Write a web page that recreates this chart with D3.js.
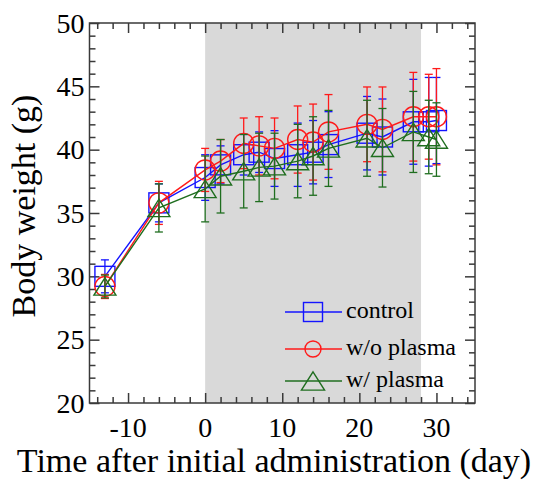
<!DOCTYPE html>
<html>
<head>
<meta charset="utf-8">
<script src="https://cdn.jsdelivr.net/npm/d3@7"></script>
<style>
    body { margin: 0; background: #fff; }
    text { font-family: "Liberation Serif", "Times New Roman", serif; fill: #000; }
</style>
</head>
<body>
<div id="chart"></div>
<script>
// days after initial administration
var days = [-13, -6, 0, 2, 5, 7, 9, 12, 14, 16, 21, 23, 27, 29, 30];

// body weight (g), mean and error
var controlMean = [30.0, 35.8, 37.8, 38.8, 39.6, 39.8, 39.3, 39.6, 39.8, 40.4, 41.3, 41.0, 42.2, 42.2, 42.3];
var controlErr  = [1.3, 1.5, 1.8, 1.5, 1.6, 1.6, 2.2, 2.5, 2.5, 2.6, 2.9, 3.0, 3.35, 3.5, 3.4];
var woPlasmaMean = [29.2, 35.8, 38.4, 39.1, 40.5, 40.3, 40.1, 40.8, 40.6, 41.4, 42.0, 41.6, 42.6, 42.6, 42.6];
var woPlasmaErr  = [0.95, 1.7, 1.7, 1.7, 2.0, 2.3, 2.4, 2.65, 3.0, 2.95, 2.95, 3.35, 3.5, 3.35, 3.8];
var wPlasmaMean = [29.2, 35.4, 36.9, 37.9, 38.3, 38.6, 38.7, 39.1, 39.5, 40.1, 40.9, 40.15, 41.4, 41.0, 40.8];
var wPlasmaErr  = [0.9, 1.9, 2.6, 2.9, 2.9, 2.7, 2.6, 2.9, 3.1, 3.0, 3.0, 3.1, 3.2, 2.9, 2.9];

// administration period (shaded)
var treatPeriod = [0, 28];

var xTicks = [-10, 0, 10, 20, 30];
var yTicks = [20, 25, 30, 35, 40, 45, 50];

var seriesNames = ["control", "w/o plasma", "w/ plasma"];

var width = 542,
    height = 485,
    plot = {left: 89.5, right: 475, top: 23, bottom: 403};

var svg = d3.select("#chart")
    .append("svg")
    .attr("width", width)
    .attr("height", height);

var x = d3.scaleLinear().domain([-15, 35]).range([plot.left, plot.right]);
var y = d3.scaleLinear().domain([20, 50]).range([plot.bottom, plot.top]);

// build series from the arrays
var series = [
    {name: seriesNames[0], mean: controlMean, err: controlErr, color: "#1414ff", symbol: "square"},
    {name: seriesNames[1], mean: woPlasmaMean, err: woPlasmaErr, color: "#ff1a1a", symbol: "circle"},
    {name: seriesNames[2], mean: wPlasmaMean, err: wPlasmaErr, color: "#1f6e1f", symbol: "triangle"}
];
series.forEach(function (s) {
    s.points = days.map(function (d, i) { return {day: d, mean: s.mean[i], err: s.err[i]}; });
});

// shaded administration period
svg.append("rect")
    .attr("x", x(treatPeriod[0]))
    .attr("y", y(50))
    .attr("width", x(treatPeriod[1]) - x(treatPeriod[0]))
    .attr("height", y(20) - y(50))
    .attr("fill", "#d9d9d9");

// axes - ticks inside, mirrored on top and right
var axisColor = "#3a3a3a";
var xMinor = d3.range(-14, 35, 2).filter(function (v) { return v % 10 !== 0; });
var yMinor = d3.range(21, 50, 1).filter(function (v) { return v % 5 !== 0; });

function styleAxis(g) {
    g.select(".domain").remove();
    g.selectAll("line").attr("stroke", axisColor).attr("stroke-width", 1.5);
}

// bottom
svg.append("g").attr("transform", "translate(0," + plot.bottom + ")")
    .call(d3.axisTop(x).tickValues(xMinor).tickSize(6).tickFormat(""))
    .call(styleAxis);
svg.append("g").attr("transform", "translate(0," + plot.bottom + ")")
    .call(d3.axisTop(x).tickValues(xTicks).tickSize(10).tickFormat(""))
    .call(styleAxis);
// top
svg.append("g").attr("transform", "translate(0," + plot.top + ")")
    .call(d3.axisBottom(x).tickValues(xMinor).tickSize(6).tickFormat(""))
    .call(styleAxis);
svg.append("g").attr("transform", "translate(0," + plot.top + ")")
    .call(d3.axisBottom(x).tickValues(xTicks).tickSize(10).tickFormat(""))
    .call(styleAxis);
// left
svg.append("g").attr("transform", "translate(" + plot.left + ",0)")
    .call(d3.axisRight(y).tickValues(yMinor).tickSize(6).tickFormat(""))
    .call(styleAxis);
svg.append("g").attr("transform", "translate(" + plot.left + ",0)")
    .call(d3.axisRight(y).tickValues(yTicks).tickSize(10).tickFormat(""))
    .call(styleAxis);
// right
svg.append("g").attr("transform", "translate(" + plot.right + ",0)")
    .call(d3.axisLeft(y).tickValues(yMinor).tickSize(6).tickFormat(""))
    .call(styleAxis);
svg.append("g").attr("transform", "translate(" + plot.right + ",0)")
    .call(d3.axisLeft(y).tickValues(yTicks).tickSize(10).tickFormat(""))
    .call(styleAxis);

// frame
svg.append("rect")
    .attr("x", plot.left)
    .attr("y", plot.top)
    .attr("width", plot.right - plot.left)
    .attr("height", plot.bottom - plot.top)
    .attr("fill", "none")
    .attr("stroke", axisColor)
    .attr("stroke-width", 1.5);

// tick labels
svg.append("g").selectAll("text")
    .data(xTicks).enter()
    .append("text")
    .attr("x", function (d) { return x(d); })
    .attr("y", plot.bottom + 34)
    .attr("text-anchor", "middle")
    .attr("font-size", 28)
    .text(function (d) { return d; });

svg.append("g").selectAll("text")
    .data(yTicks).enter()
    .append("text")
    .attr("x", plot.left - 5)
    .attr("y", function (d) { return y(d); })
    .attr("dy", "0.34em")
    .attr("text-anchor", "end")
    .attr("font-size", 28)
    .text(function (d) { return d; });

// axis titles
svg.append("text")
    .attr("x", 274)
    .attr("y", 472)
    .attr("text-anchor", "middle")
    .attr("font-size", 34)
    .text("Time after initial administration (day)");

svg.append("text")
    .attr("transform", "translate(35,206) rotate(-90)")
    .attr("text-anchor", "middle")
    .attr("font-size", 34)
    .text("Body weight (g)");

// marker drawing
function drawMarker(sel, symbol, color, size) {
    if (symbol === "square") {
        sel.append("rect")
            .attr("x", -size / 2).attr("y", -size / 2)
            .attr("width", size).attr("height", size);
    } else if (symbol === "circle") {
        sel.append("circle").attr("r", size / 2);
    } else {
        var h = size * 0.87, w = size * 1.1;
        sel.append("path")
            .attr("d", "M0," + (-h / 2) + "L" + (w / 2) + "," + (h / 2) + "L" + (-w / 2) + "," + (h / 2) + "Z");
    }
    sel.selectAll("*")
        .attr("fill", "none")
        .attr("stroke", color)
        .attr("stroke-width", 1.4);
}

var line = d3.line()
    .x(function (d) { return x(d.day); })
    .y(function (d) { return y(d.mean); });

var capW = 4;

series.forEach(function (s) {
    var g = svg.append("g").attr("class", "series");

    // error bars
    var eb = g.selectAll(".err")
        .data(s.points).enter()
        .append("g")
        .attr("stroke", s.color)
        .attr("stroke-width", 1.3);
    eb.append("line")
        .attr("x1", function (d) { return x(d.day); })
        .attr("x2", function (d) { return x(d.day); })
        .attr("y1", function (d) { return y(d.mean - d.err); })
        .attr("y2", function (d) { return y(d.mean + d.err); });
    eb.append("line")
        .attr("x1", function (d) { return x(d.day) - capW; })
        .attr("x2", function (d) { return x(d.day) + capW; })
        .attr("y1", function (d) { return y(d.mean + d.err); })
        .attr("y2", function (d) { return y(d.mean + d.err); });
    eb.append("line")
        .attr("x1", function (d) { return x(d.day) - capW; })
        .attr("x2", function (d) { return x(d.day) + capW; })
        .attr("y1", function (d) { return y(d.mean - d.err); })
        .attr("y2", function (d) { return y(d.mean - d.err); });

    // connecting line
    g.append("path")
        .datum(s.points)
        .attr("d", line)
        .attr("fill", "none")
        .attr("stroke", s.color)
        .attr("stroke-width", 1.4);

    // markers
    g.selectAll(".marker")
        .data(s.points).enter()
        .append("g")
        .attr("transform", function (d) { return "translate(" + x(d.day) + "," + y(d.mean) + ")"; })
        .each(function () { drawMarker(d3.select(this), s.symbol, s.color, 20); });
});

// legend
var legendRows = [312, 349, 381];
var legend = svg.append("g").selectAll("g")
    .data(series).enter()
    .append("g")
    .attr("transform", function (d, i) { return "translate(0," + legendRows[i] + ")"; });
legend.append("line")
    .attr("x1", 285).attr("x2", 342)
    .attr("stroke", function (d) { return d.color; })
    .attr("stroke-width", 1.4);
legend.append("g")
    .attr("transform", "translate(313,0)")
    .each(function (d) {
        var sz = d.symbol === "circle" ? 16 : (d.symbol === "square" ? 19 : 21);
        drawMarker(d3.select(this), d.symbol, d.color, sz);
    });
legend.append("text")
    .attr("x", 346)
    .attr("y", 6)
    .attr("font-size", 24)
    .text(function (d) { return d.name; });
</script>
</body>
</html>
